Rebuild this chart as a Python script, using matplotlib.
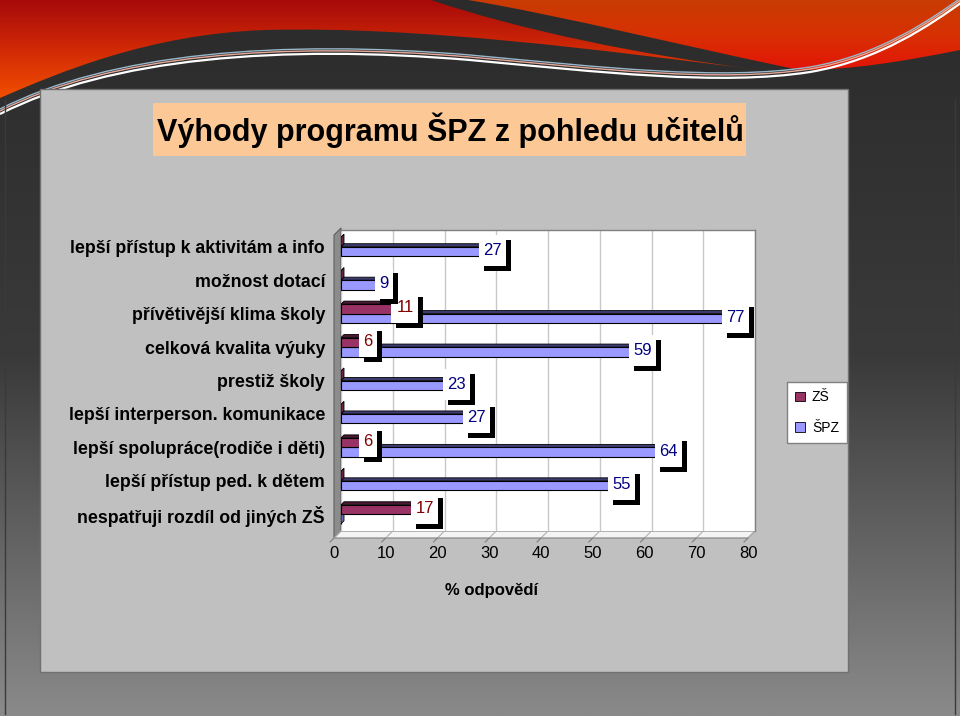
import numpy as np
import matplotlib.pyplot as plt
from matplotlib.patches import Rectangle, Polygon, PathPatch, Patch
from matplotlib.path import Path
from matplotlib.colors import LinearSegmentedColormap
from matplotlib.transforms import ScaledTranslation, IdentityTransform

plt.rcParams['font.family'] = ['Liberation Sans', 'DejaVu Sans']

# ---------------- data ----------------
title = "Výhody programu ŠPZ z pohledu učitelů"
categories = ["lepší přístup k aktivitám a info",
              "možnost dotací",
              "přívětivější klima školy",
              "celková kvalita výuky",
              "prestiž školy",
              "lepší interperson. komunikace",
              "lepší spolupráce(rodiče i děti)",
              "lepší přístup ped. k dětem",
              "nespatřuji rozdíl od jiných ZŠ"]
zs = [0, 0, 11, 6, 0, 0, 6, 0, 17]
spz = [27, 9, 77, 59, 23, 27, 64, 55, 0]
series_names = ["ZŠ", "ŠPZ"]
xticks = list(range(0, 81, 10))
xlabel = "% odpovědí"

zs_color = "#993366"
spz_color = "#9999ff"

# ---------------- layout (pixels, y from top) ----------------
W, H = 960, 716
AX_L, AX_R, AX_T, AX_B = 341, 755, 230, 531
DEPTH = 7

fig = plt.figure(figsize=(W / 100, H / 100), dpi=100)

# background of the slide
bg = fig.add_axes([0, 0, 1, 1])
bg.set_xlim(0, W)
bg.set_ylim(H, 0)
bg.axis("off")

grad = np.linspace(0, 1, 256).reshape(-1, 1)
cm_bg = LinearSegmentedColormap.from_list("bg", ["#2b2b2b", "#3a3a3a", "#8a8a8a"])
bg.imshow(grad, extent=(0, W, H, 0), cmap=cm_bg, aspect="auto", zorder=0)

# red wave, left part
left_path = Path([(0, 0), (431, 0), (520, 30), (640, 55), (760, 70),
                  (600, 50), (420, 26), (265, 30),
                  (150, 34), (60, 72), (0, 98), (0, 0)],
                 [Path.MOVETO, Path.LINETO, Path.CURVE4, Path.CURVE4, Path.CURVE4,
                  Path.CURVE4, Path.CURVE4, Path.CURVE4,
                  Path.CURVE4, Path.CURVE4, Path.CURVE4, Path.CLOSEPOLY])
left_patch = PathPatch(left_path, fc="none", ec="none")
bg.add_patch(left_patch)
cm_left = LinearSegmentedColormap.from_list("l", ["#a60a0a", "#d22a06", "#f25000"])
im = bg.imshow(grad, extent=(0, W, 100, 0), cmap=cm_left, aspect="auto", zorder=1)
im.set_clip_path(left_patch)

# red wave, right part
right_path = Path([(468, 0), (960, 0), (960, 50),
                   (900, 62), (850, 70), (800, 70),
                   (700, 50), (560, 15), (468, 0), (468, 0)],
                  [Path.MOVETO, Path.LINETO, Path.LINETO,
                   Path.CURVE4, Path.CURVE4, Path.CURVE4,
                   Path.CURVE4, Path.CURVE4, Path.CURVE4, Path.CLOSEPOLY])
right_patch = PathPatch(right_path, fc="none", ec="none")
bg.add_patch(right_patch)
cm_right = LinearSegmentedColormap.from_list("r", ["#c83c02", "#d83004", "#e41206"])
im2 = bg.imshow(grad, extent=(0, W, 72, 0), cmap=cm_right, aspect="auto", zorder=1)
im2.set_clip_path(right_patch)

# thin light lines along the wave
for dy, col, lw in [(0, "white", 1.6), (-3, "#e8a898", 1.0), (-5, "#98b8cc", 1.0)]:
    p = Path([(0, 114 + dy), (110, 58 + dy), (280, 44 + dy), (470, 60 + dy),
              (600, 72 + dy), (720, 86 + dy), (810, 72 + dy),
              (880, 60 + dy), (930, 25 + dy), (965, 0 + dy)],
             [Path.MOVETO, Path.CURVE4, Path.CURVE4, Path.CURVE4,
              Path.CURVE4, Path.CURVE4, Path.CURVE4,
              Path.CURVE4, Path.CURVE4, Path.CURVE4])
    bg.add_patch(PathPatch(p, fc="none", ec=col, lw=lw, zorder=2))

# slide border lines
bg.plot([5, 5], [100, 714], color="#3a3a3a", lw=1, zorder=2)
bg.plot([955, 955], [100, 714], color="#3a3a3a", lw=1, zorder=2)

# chart area
bg.add_patch(Rectangle((40, 89), 808, 583, fc="#c0c0c0", ec="#707070", lw=1, zorder=3))

# title box
bg.add_patch(Rectangle((153, 103), 593, 53, fc="#fcc895", ec="none", zorder=4))
bg.text(450, 130, title, ha="center", va="center", fontsize=22,
        fontweight="bold", color="black", zorder=5)

# 3D wall and floor
bg.add_patch(Polygon([(AX_L, AX_T - 2), (AX_L, AX_B), (AX_L - DEPTH, AX_B + DEPTH),
                      (AX_L - DEPTH, AX_T + DEPTH - 2)],
                     fc="#8c8c8c", ec="#606060", lw=0.8, zorder=4))
bg.add_patch(Polygon([(AX_L, AX_B), (AX_R, AX_B), (AX_R - DEPTH, AX_B + DEPTH),
                      (AX_L - DEPTH, AX_B + DEPTH)],
                     fc="#f4f4f4", ec="#808080", lw=0.8, zorder=4))

# ---------------- chart ----------------
ax = fig.add_axes([AX_L / W, 1 - AX_B / H, (AX_R - AX_L) / W, (AX_B - AX_T) / H])
ax.set_xlim(0, 80)
ax.set_ylim(len(categories) - 0.5, -0.5)
ax.set_facecolor("white")

sx = (AX_R - AX_L) / 80
sy = (AX_B - AX_T) / len(categories)
bh = 9.5 / sy
ddx = 3 / sx
ddy = 3 / sy

y = np.arange(len(categories))

ax.barh(y + bh / 2, spz, height=bh, color=spz_color, edgecolor="black", lw=0.8, zorder=2)
ax.barh(y - bh / 2, zs, height=bh, color=zs_color, edgecolor="black", lw=0.8, zorder=3)

top_colors = {"ZŠ": "#4a1830", "ŠPZ": "#3c3c70"}
side_colors = {"ZŠ": "#6e2248", "ŠPZ": "#6c6cbc"}
for i in range(len(categories)):
    for name, vals, yc, z in [("ŠPZ", spz, y[i] + bh / 2, 2), ("ZŠ", zs, y[i] - bh / 2, 3)]:
        w = vals[i]
        yt = yc - bh / 2
        ax.add_patch(Polygon([(0, yt), (w, yt), (w + ddx, yt - ddy), (ddx, yt - ddy)],
                             fc=top_colors[name], ec="black", lw=0.6, zorder=z))
        ax.add_patch(Polygon([(w, yt), (w + ddx, yt - ddy), (w + ddx, yt + bh - ddy), (w, yt + bh)],
                             fc=side_colors[name], ec="black", lw=0.6, zorder=z))

# data labels: white box with black shadow, upper ones drawn on top
BOX_H = 31
# labels that Excel pushed sideways (series, category) -> extra pixels
label_nudge = {("ŠPZ", 0): 16, ("ZŠ", 2): 11}
n = len(categories)
for name, vals, off, col, s in [("ŠPZ", spz, bh / 2, "#000080", 0.0),
                                ("ZŠ", zs, -bh / 2, "#800000", 0.5)]:
    for i, v in enumerate(vals):
        if v == 0:
            continue
        z = 6 + (n - i) + s
        ox = -4 + label_nudge.get((name, i), 0)
        bw = 9 * len(str(v)) + 9
        anchor = IdentityTransform() + ScaledTranslation(v, y[i] + off, ax.transData)
        ax.add_patch(Rectangle((ox - bw / 2 + 5, 1 - BOX_H / 2 - 5), bw, BOX_H, fc="black",
                               ec="none", transform=anchor, clip_on=False, zorder=z))
        ax.add_patch(Rectangle((ox - bw / 2, 1 - BOX_H / 2), bw, BOX_H, fc="white",
                               ec="none", transform=anchor, clip_on=False, zorder=z + 0.1))
        ax.annotate(str(v), (v, y[i] + off), xytext=(ox, 1), textcoords="offset pixels",
                    ha="center", va="center", fontsize=12, color=col, zorder=z + 0.2)

ax.set_xticks(xticks)
ax.set_xticklabels([str(t) for t in xticks], fontsize=12)
ax.set_yticks(y)
ax.set_yticklabels(categories, fontsize=12.8, fontweight="bold")
ax.tick_params(axis="x", length=0, pad=10.5)
ax.tick_params(axis="y", length=0, pad=11.5)
for lbl in ax.get_xticklabels():
    lbl.set_transform(lbl.get_transform() + ScaledTranslation(-7 / 100, 0, fig.dpi_scale_trans))

ax.grid(axis="x", color="#c8c8c8", lw=1)
ax.set_axisbelow(True)
for s in ["left", "bottom"]:
    ax.spines[s].set_visible(False)
for s in ["top", "right"]:
    ax.spines[s].set_color("#808080")
    ax.spines[s].set_linewidth(1)

# slanted grid lines and ticks on the floor
for t in xticks:
    px = AX_L + t * sx
    bg.plot([px, px - DEPTH], [AX_B, AX_B + DEPTH], color="#b0b0b0", lw=0.8, zorder=5)
    bg.plot([px - DEPTH, px - DEPTH - 4], [AX_B + DEPTH, AX_B + DEPTH + 4], color="#808080", lw=0.8, zorder=5)

fig.text(492 / W, 1 - 590 / H, xlabel, ha="center", va="center", fontsize=12, fontweight="bold")

# legend
handles = [Patch(fc=zs_color, ec="black", lw=0.6), Patch(fc=spz_color, ec="black", lw=0.6)]
fig.legend(handles, series_names, loc="upper left", bbox_to_anchor=(787 / W, 1 - 382 / H),
           frameon=True, fancybox=False, edgecolor="#808080", framealpha=1, fontsize=10,
           handlelength=0.7, handleheight=0.7, handletextpad=0.5, labelspacing=1.2,
           borderpad=0.6, borderaxespad=0)

plt.savefig("out.png", dpi=100)
